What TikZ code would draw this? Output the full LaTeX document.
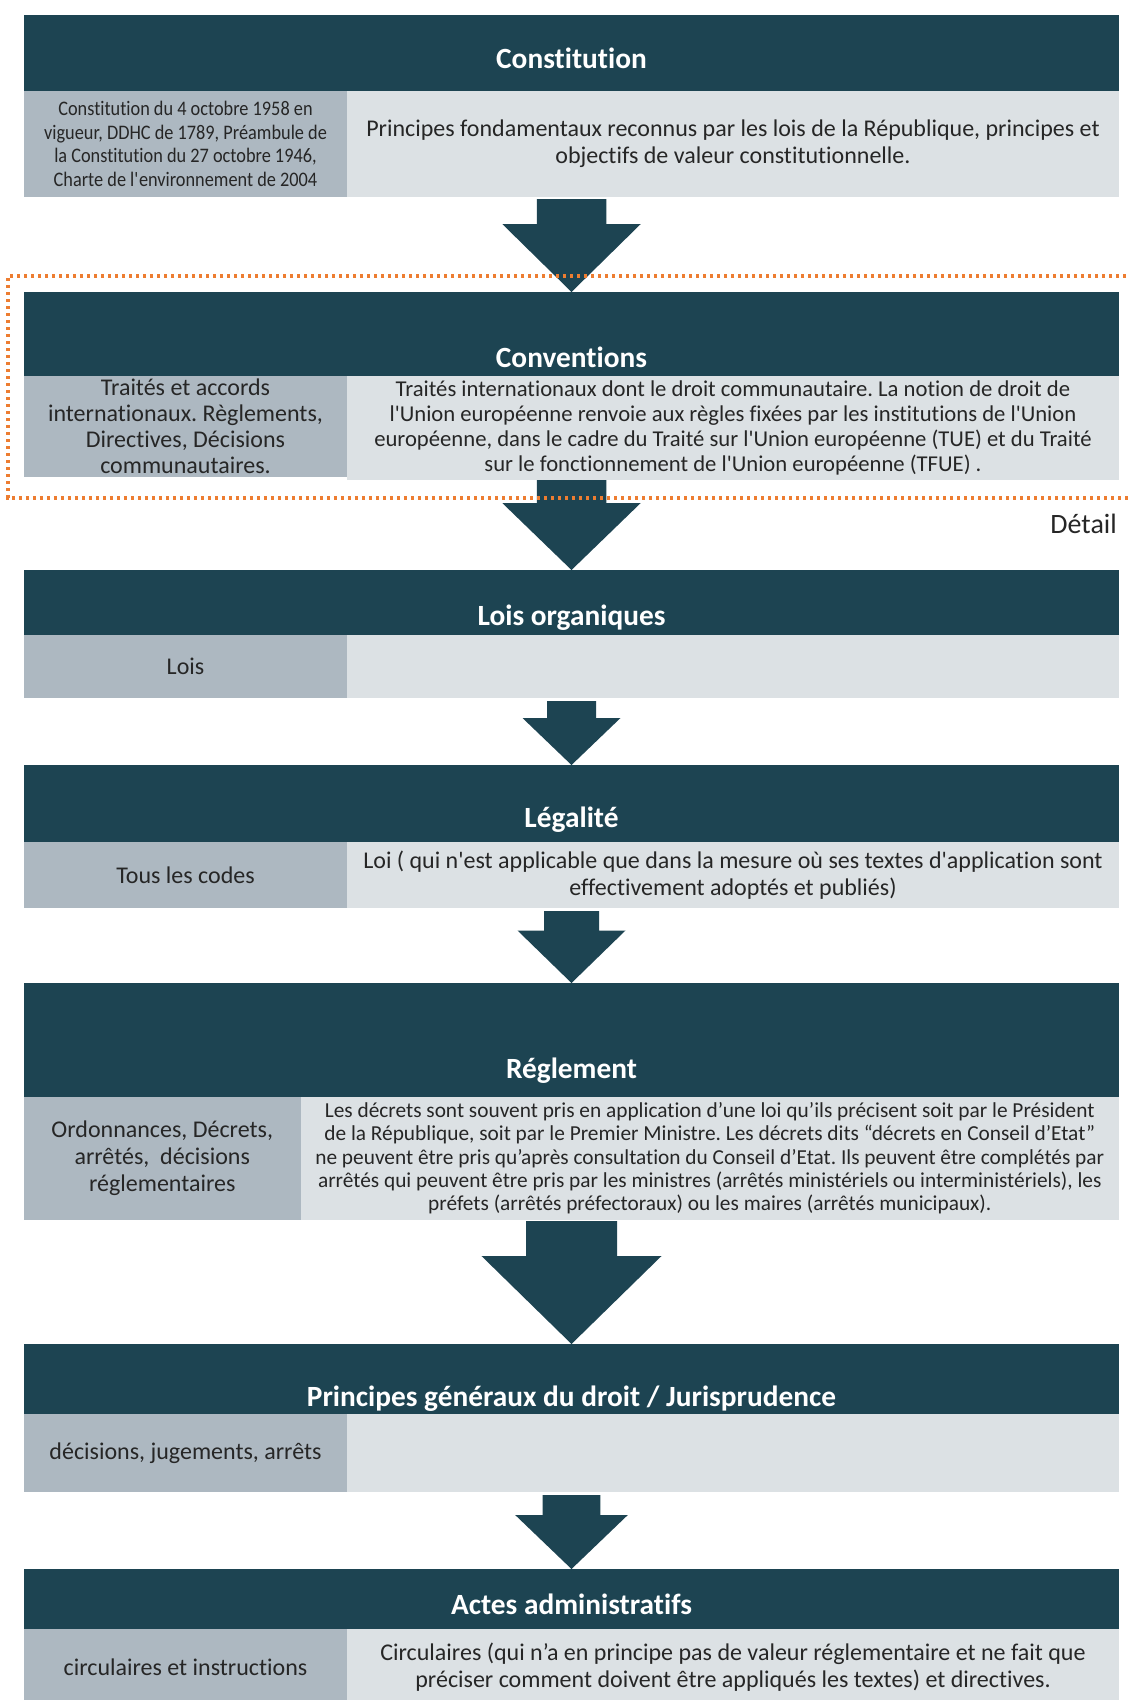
\documentclass[tikz,border=0pt]{standalone}
\usepackage{fontspec}
\setmainfont{Carlito}[Ligatures={TeX,NoCommon}]
\newfontfamily\condfont{Carlito}[FakeStretch=0.885, Ligatures={TeX,NoCommon}]
\usetikzlibrary{calc}
\frenchspacing

\definecolor{bandteal}{HTML}{1D4452}
\definecolor{cellgrey}{HTML}{ADB8C1}
\definecolor{celllight}{HTML}{DCE1E4}
\definecolor{dotorange}{HTML}{ED7D31}
\definecolor{inktext}{HTML}{262626}

\newdimen\px
\px=0.75pt
\newcommand{\sq}{\textquotesingle}
% block arrow: stem top, tip, half stem, half head, head length
\newcommand{\blockarrow}[5]{%
  \fill[bandteal] ($(#1)+(-#3,0)$) -- ($(#1)+(#3,0)$) -- ($(#2)+(#3,-#5)$) -- ($(#2)+(#4,-#5)$)
    -- (#2) -- ($(#2)+(-#4,-#5)$) -- ($(#2)+(-#3,-#5)$) -- cycle;}

\begin{document}
\begin{tikzpicture}[x=0.75pt, y=-0.75pt,
    band/.style={fill=bandteal, minimum width=1095\px, inner sep=0pt, outer sep=0pt},
    leftcell/.style={fill=cellgrey, text=inktext, minimum width=323\px, inner sep=0pt, outer sep=0pt,
      align=center, font=\fontsize{18}{20.25}\selectfont},
    rightcell/.style={fill=celllight, text=inktext, minimum width=772\px, inner sep=0pt, outer sep=0pt,
      align=center, font=\fontsize{18}{20.25}\selectfont},
    title/.style={text=white, anchor=base, inner sep=0pt, font=\bfseries\fontsize{22}{26}\selectfont}]
    \useasboundingbox (0,0) rectangle (1130,1700);
    \fill[white] (0,0) rectangle (1130,1700);

    % Constitution
    \node[band, minimum height=76\px] (cons) at (571.5,53) {};
    \node[title] (cons-t) at (571.5,68) {Constitution};
    \node[leftcell, minimum height=106\px, font=\condfont\fontsize{15.5}{17.6}\selectfont] (cons-l) at (185.5,144)
      {Constitution du 4 octobre 1958 en\\vigueur, DDHC de 1789, Préambule de\\la Constitution du 27 octobre 1946,\\Charte de l\sq environnement de 2004};
    \node[rightcell, minimum height=106\px] (cons-r) at (733,144)
      {Principes fondamentaux reconnus par les lois de la République, principes et\\objectifs de valeur constitutionnelle.};

    % Conventions
    \node[band, minimum height=84\px] (conv) at (571.5,334) {};
    \node[title] (conv-t) at (571.5,367) {Conventions};
    \node[leftcell, minimum height=101\px, font=\fontsize{18}{19.5}\selectfont] (conv-l) at (185.5,426.5)
      {Traités et accords\\internationaux. Règlements,\\Directives, Décisions\\communautaires.};
    \node[rightcell, minimum height=104\px, font=\fontsize{17}{18.75}\selectfont] (conv-r) at (733,428)
      {Traités internationaux dont le droit communautaire. La notion de droit de\\l\sq Union européenne renvoie aux règles fixées par les institutions de l\sq Union\\européenne, dans le cadre du Traité sur l\sq Union européenne (TUE) et du Traité\\sur le fonctionnement de l\sq Union européenne (TFUE) .};

    % Lois organiques
    \node[band, minimum height=65\px] (lorg) at (571.5,602.5) {};
    \node[title] (lorg-t) at (571.5,625) {Lois organiques};
    \node[leftcell, minimum height=63\px] (lorg-l) at (185.5,666.5) {Lois};
    \node[rightcell, minimum height=63\px] (lorg-r) at (733,666.5) {};

    % Legalite
    \node[band, minimum height=77\px] (leg) at (571.5,803.5) {};
    \node[title] (leg-t) at (571.5,827) {Légalité};
    \node[leftcell, minimum height=66\px] (leg-l) at (185.5,875) {Tous les codes};
    \node[rightcell, minimum height=66\px] (leg-r) at (733,875)
      {Loi ( qui n\sq est applicable que dans la mesure où ses textes d\sq application sont\\effectivement adoptés et publiés)};

    % Reglement
    \node[band, minimum height=114\px] (regl) at (571.5,1040) {};
    \node[title] (regl-t) at (571.5,1078) {Réglement};
    \node[leftcell, minimum height=123\px, minimum width=276.5\px] (regl-l) at (162.25,1158.5)
      {Ordonnances, Décrets,\\arrêtés,\ \ décisions\\réglementaires};
    \node[rightcell, minimum height=123\px, minimum width=818.5\px, font=\fontsize{16}{17.5}\selectfont] (regl-r) at (709.75,1158.5)
      {Les décrets sont souvent pris en application d’une loi qu’ils précisent soit par le Président\\de la République, soit par le Premier Ministre. Les décrets dits “décrets en Conseil d’Etat”\\ne peuvent être pris qu’après consultation du Conseil d’Etat. Ils peuvent être complétés par\\arrêtés qui peuvent être pris par les ministres (arrêtés ministériels ou interministériels), les\\préfets (arrêtés préfectoraux) ou les maires (arrêtés municipaux).};

    % Principes generaux
    \node[band, minimum height=70\px] (pgd) at (571.5,1379) {};
    \node[title] (pgd-t) at (571.5,1406) {Principes généraux du droit / Jurisprudence};
    \node[leftcell, minimum height=78\px] (pgd-l) at (185.5,1453) {décisions, jugements, arrêts};
    \node[rightcell, minimum height=78\px] (pgd-r) at (733,1453) {};

    % Actes administratifs
    \node[band, minimum height=60\px] (actes) at (571.5,1599) {};
    \node[title] (actes-t) at (571.5,1614) {Actes administratifs};
    \node[leftcell, minimum height=76\px] (actes-l) at (185.5,1667) {circulaires et instructions};
    \node[rightcell, minimum height=76\px] (actes-r) at (733,1667)
      {Circulaires (qui n’a en principe pas de valeur réglementaire et ne fait que\\préciser comment doivent être appliqués les textes) et directives.};

    % Arrows between levels
    \coordinate (a1) at ($(cons-r.south -| cons.south)+(0,2)$);
    \coordinate (a2) at ($(conv-r.south -| conv.south)+(0,0)$);
    \coordinate (a3) at ($(lorg-r.south -| lorg.south)+(0,3)$);
    \coordinate (a4) at ($(leg-r.south -| leg.south)+(0,3)$);
    \coordinate (a5) at ($(regl-r.south -| regl.south)+(0,1)$);
    \coordinate (a6) at ($(pgd-r.south -| pgd.south)+(0,3)$);
    \blockarrow{a1}{conv.north}{34.75}{69.25}{68}
    \blockarrow{a2}{lorg.north}{34.75}{69.25}{67}
    \blockarrow{a3}{leg.north}{24.5}{49}{47}
    \blockarrow{a4}{regl.north}{27.5}{54}{52.5}
    \blockarrow{a5}{pgd.north}{45.5}{90}{88}
    \blockarrow{a6}{actes.north}{28.8}{56.3}{54}

    % Detail frame
    \draw[dotorange, line width=2.4pt, dash pattern=on 2.4pt off 2.85pt] (1140,276) -- (8,276) -- (8,498) -- (1140,498);
    \node[anchor=base east, text=inktext, inner sep=0pt, font=\fontsize{21}{25}\selectfont] (detail) at (1117,533) {Détail};
\end{tikzpicture}
\end{document}
